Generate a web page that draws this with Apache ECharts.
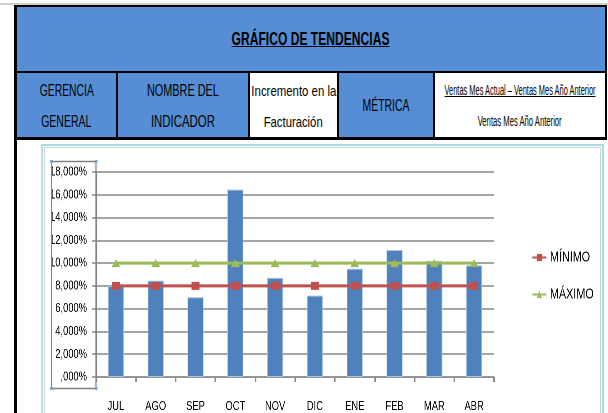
<!DOCTYPE html>
<html>
<head>
<meta charset="utf-8">
<script src="https://cdn.jsdelivr.net/npm/echarts@6/dist/echarts.min.js"></script>
<style>
  body{margin:0;background:#fff;width:608px;height:413px;overflow:hidden;position:relative;font-family:'Liberation Sans',Arial,sans-serif;}
  .b{position:absolute;}
  .cell{position:absolute;display:flex;flex-direction:column;justify-content:center;align-items:center;color:#000;white-space:nowrap;}
  .cell span{display:inline-block;transform-origin:50% 50%;}
  .blue{background:#558ed5;}
  .blk{position:absolute;background:#000;}
  /* chart is drawn wide and squeezed, so the text looks condensed like the original */
  #chart{position:absolute;left:0;top:140px;width:845px;height:273px;transform:scaleX(0.72);transform-origin:0 0;}
</style>
</head>
<body>
<div class="b" style="left:0;top:3px;width:608px;height:2px;background:#d0d0d0"></div>
<!-- title band -->
<div class="cell blue" style="left:17px;top:7px;width:588px;height:64px;">
  <span data-w="158" style="font-weight:bold;font-size:18px;text-decoration:underline;">GRÁFICO DE TENDENCIAS</span>
</div>
<!-- second row -->
<div class="cell blue" style="left:17px;top:73px;width:99px;height:64px;padding-top:2px;box-sizing:border-box;font-size:16px;line-height:31px;">
  <span data-w="54">GERENCIA</span><span data-w="50">GENERAL</span>
</div>
<div class="cell blue" style="left:118px;top:73px;width:130px;height:64px;padding-top:2px;box-sizing:border-box;font-size:16px;line-height:31px;">
  <span data-w="72">NOMBRE DEL</span><span data-w="64">INDICADOR</span>
</div>
<div class="cell" style="left:250px;top:73px;width:87px;height:64px;padding-top:2px;box-sizing:border-box;background:#fff;font-size:15px;line-height:31px;">
  <span data-w="85">Incremento en la</span><span data-w="59">Facturación</span>
</div>
<div class="cell blue" style="left:339px;top:73px;width:94px;height:64px;padding-top:2px;box-sizing:border-box;font-size:16px;">
  <span data-w="47">MÉTRICA</span>
</div>
<div class="cell" style="left:435px;top:73px;width:170px;height:64px;padding-top:2px;box-sizing:border-box;background:#fff;font-size:14px;line-height:31px;">
  <span data-w="151" style="text-decoration:underline;">Ventas Mes Actual – Ventas Mes Año Anterior</span>
  <span data-w="84">Ventas Mes Año Anterior</span>
</div>
<!-- borders -->
<div class="blk" style="left:14px;top:5px;width:593px;height:2px;"></div>
<div class="blk" style="left:14px;top:71px;width:593px;height:2px;"></div>
<div class="blk" style="left:14px;top:137px;width:593px;height:3px;"></div>
<div class="blk" style="left:116px;top:71px;width:2px;height:68px;"></div>
<div class="blk" style="left:248px;top:71px;width:2px;height:68px;"></div>
<div class="blk" style="left:337px;top:71px;width:2px;height:68px;"></div>
<div class="blk" style="left:433px;top:71px;width:2px;height:68px;"></div>
<div class="blk" style="left:605px;top:5px;width:2px;height:135px;"></div>

<div id="chart"></div>
<div class="blk" style="left:14px;top:5px;width:3px;height:408px;"></div>

<script>
var meses = ['JUL', 'AGO', 'SEP', 'OCT', 'NOV', 'DIC', 'ENE', 'FEB', 'MAR', 'ABR'];
var incremento = [8.0, 8.45, 7.0, 16.45, 8.7, 7.15, 9.5, 11.15, 10.2, 9.8];
var minimo = [8, 8, 8, 8, 8, 8, 8, 8, 8, 8];
var maximo = [10, 10, 10, 10, 10, 10, 10, 10, 10, 10];
var nombres = ['MÍNIMO', 'MÁXIMO'];

// header text: squeeze each span to the width it has in the original
document.querySelectorAll('.cell span').forEach(function(el){
	var w = parseFloat(el.getAttribute('data-w'));
	var natural = el.getBoundingClientRect().width;
	if (w && natural) el.style.transform = 'scaleX(' + (w / natural) + ')';
});

var SX = 0.72;           // horizontal squeeze of the chart div
function px(x){ return x / SX; }

var fuente = "'Liberation Sans',Arial,sans-serif";

function fmtPct(v){
	var s = v.toFixed(3).replace('.', ',');
	if (v === 0) s = ',000';
	return s + '%';
}

var myChart = echarts.init(document.getElementById('chart'), null, {devicePixelRatio: 2});
var option = {
	animation: false,
	grid: {left: px(96), top: 32, width: px(398), height: 206.5},
	legend: {
		orient: 'vertical',
		left: px(528),
		top: 105,
		itemWidth: px(14),
		itemHeight: 9,
		itemGap: 22,
		data: nombres,
		textStyle: {fontFamily: fuente, fontSize: 15, color: '#000'}
	},
	xAxis: {
		type: 'category',
		data: meses,
		boundaryGap: true,
		axisLine: {lineStyle: {color: '#878787', width: 1.5}},
		axisTick: {show: true, length: 5, lineStyle: {color: '#878787', width: 1.5 / SX}},
		axisLabel: {fontFamily: fuente, fontSize: 13, color: '#000', margin: 23}
	},
	yAxis: {
		type: 'value',
		min: 0,
		max: 18,
		interval: 2,
		axisLine: {show: true, lineStyle: {color: '#878787', width: 1.5 / SX}},
		axisTick: {show: true, length: px(4), lineStyle: {color: '#878787', width: 1.5}},
		splitLine: {lineStyle: {color: '#878787', width: 1.5}},
		axisLabel: {fontFamily: fuente, fontSize: 13, color: '#000', margin: px(9), formatter: fmtPct}
	},
	series: [
		{
			name: 'INCREMENTO',
			type: 'bar',
			data: incremento,
			barWidth: px(16),
			itemStyle: {color: '#4f81bd', borderColor: '#a9c2e2', borderWidth: 1},
			z: 1
		},
		{
			name: nombres[0],
			type: 'line',
			data: minimo,
			symbol: 'rect',
			symbolSize: [px(8), 8],
			lineStyle: {color: '#c0504d', width: 3},
			itemStyle: {color: '#c0504d'},
			z: 3
		},
		{
			name: nombres[1],
			type: 'line',
			data: maximo,
			symbol: 'triangle',
			symbolSize: [px(9), 8],
			lineStyle: {color: '#9bbb59', width: 3},
			itemStyle: {color: '#9bbb59'},
			z: 3
		}
	],
	graphic: [
		{type: 'rect', shape: {x: px(42), y: 5, width: px(561), height: 300}, style: {fill: 'none', stroke: '#a6dbe3', lineWidth: 2}, z: -1},
		{type: 'rect', shape: {x: px(44.5), y: 7.5, width: px(556), height: 300}, style: {fill: 'none', stroke: '#d2d2d2', lineWidth: 1}, z: -1},
		{type: 'rect', shape: {x: px(51.5), y: 21.5, width: px(44.5), height: 227}, style: {fill: 'none', stroke: '#808080', lineWidth: 1.5}, z: 5},
		{type: 'rect', shape: {x: px(50), y: 20, width: px(3), height: 3}, style: {fill: '#7ba7d7'}, z: 6},
		{type: 'rect', shape: {x: px(94.5), y: 20, width: px(3), height: 3}, style: {fill: '#7ba7d7'}, z: 6},
		{type: 'rect', shape: {x: px(50), y: 247, width: px(3), height: 3}, style: {fill: '#7ba7d7'}, z: 6},
		{type: 'rect', shape: {x: px(94.5), y: 247, width: px(3), height: 3}, style: {fill: '#7ba7d7'}, z: 6}
	]
};
myChart.setOption(option);
</script>
</body>
</html>
